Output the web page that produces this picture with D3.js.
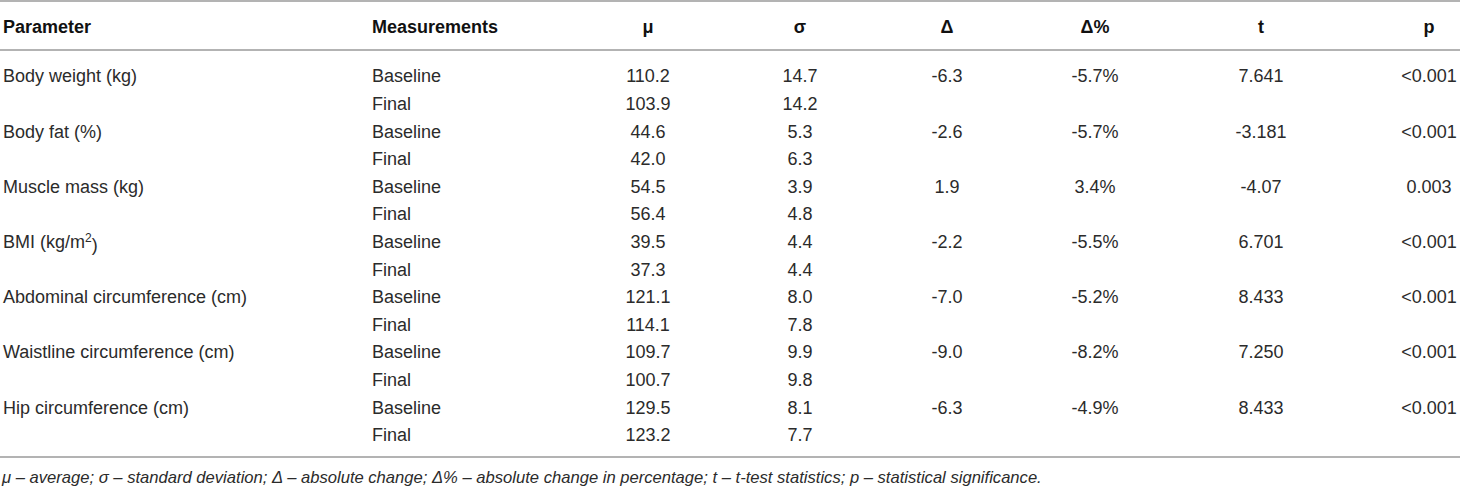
<!DOCTYPE html>
<html lang="en">
<head>
    <meta charset="UTF-8">
    <title>Body composition: baseline vs final</title>
    <script src="https://d3js.org/d3.v7.min.js"></script>
    <style>
        body {
            margin: 0;
            background: #fff;
            font-family: "Liberation Sans", Arial, sans-serif;
        }
        .cell { font-size: 18px; fill: #2b2b2b; }
        .head { font-size: 18px; font-weight: bold; fill: #111; }
        .note { font-size: 16.6px; font-style: italic; fill: #2b2b2b; }
        .rule { stroke: #9a9a9a; stroke-width: 1.5; }
    </style>
</head>
<body>
    <div id="chart"></div>
    <script>
        // Table data
        const headers = ["Parameter", "Measurements", "μ", "σ", "Δ", "Δ%", "t", "p"];
        const parameters = ["Body weight (kg)", "Body fat (%)", "Muscle mass (kg)", "BMI (kg/m2)",
            "Abdominal circumference (cm)", "Waistline circumference (cm)", "Hip circumference (cm)"];
        const measurements = ["Baseline", "Final"];
        const muBaseline = ["110.2", "44.6", "54.5", "39.5", "121.1", "109.7", "129.5"];
        const muFinal = ["103.9", "42.0", "56.4", "37.3", "114.1", "100.7", "123.2"];
        const sigmaBaseline = ["14.7", "5.3", "3.9", "4.4", "8.0", "9.9", "8.1"];
        const sigmaFinal = ["14.2", "6.3", "4.8", "4.4", "7.8", "9.8", "7.7"];
        const delta = ["-6.3", "-2.6", "1.9", "-2.2", "-7.0", "-9.0", "-6.3"];
        const deltaPct = ["-5.7%", "-5.7%", "3.4%", "-5.5%", "-5.2%", "-8.2%", "-4.9%"];
        const tStat = ["7.641", "-3.181", "-4.07", "6.701", "8.433", "7.250", "8.433"];
        const pValue = ["<0.001", "<0.001", "0.003", "<0.001", "<0.001", "<0.001", "<0.001"];
        const footnote = "μ – average; σ – standard deviation; Δ – absolute change; Δ% – absolute change in percentage; t – t-test statistics; p – statistical significance.";

        const W = 1460, H = 488;

        const svg = d3.select("#chart")
            .append("svg")
            .attr("width", W)
            .attr("height", H);

        // Build rows: two per parameter
        const rows = [];
        parameters.forEach((p, i) => {
            rows.push({ param: p, meas: measurements[0], mu: muBaseline[i], sigma: sigmaBaseline[i],
                delta: delta[i], pct: deltaPct[i], t: tStat[i], p: pValue[i] });
            rows.push({ param: "", meas: measurements[1], mu: muFinal[i], sigma: sigmaFinal[i],
                delta: "", pct: "", t: "", p: "" });
        });

        // Scales
        const y = d3.scalePoint()
            .domain(d3.range(rows.length))
            .range([76, 435]);

        const keys = ["param", "meas", "mu", "sigma", "delta", "pct", "t", "p"];
        const x = d3.scaleOrdinal()
            .domain(keys)
            .range([3, 372, 648, 800, 947, 1095, 1261, 1429]);
        const anchor = k => (k === "param" || k === "meas") ? "start" : "middle";

        // Rules
        [1, 50, 457].forEach(yy => {
            svg.append("line").attr("class", "rule")
                .attr("x1", 0).attr("x2", W)
                .attr("y1", yy).attr("y2", yy);
        });

        // Header
        svg.append("g").selectAll("text")
            .data(keys)
            .join("text")
            .attr("class", "head")
            .attr("x", k => x(k))
            .attr("y", 27)
            .attr("dy", "0.35em")
            .attr("text-anchor", anchor)
            .text((k, i) => headers[i]);

        // Body cells
        const rowG = svg.append("g").selectAll("g")
            .data(rows)
            .join("g")
            .attr("transform", (d, i) => `translate(0,${y(i)})`);

        keys.forEach(k => {
            rowG.append("text")
                .attr("class", "cell")
                .attr("x", x(k))
                .attr("dy", "0.35em")
                .attr("text-anchor", anchor(k))
                .each(function (d) {
                    const v = d[k];
                    const t = d3.select(this);
                    if (k === "param" && v.endsWith("m2)")) {
                        // superscript the 2 in kg/m2
                        t.append("tspan").text(v.slice(0, -2));
                        t.append("tspan").attr("dy", "-0.5em").style("font-size", "12px").text("2");
                        t.append("tspan").attr("dy", "0.5em").text(")");
                    } else {
                        t.text(v);
                    }
                });
        });

        // Footnote
        svg.append("text")
            .attr("class", "note")
            .attr("x", 2)
            .attr("y", 477)
            .attr("dy", "0.35em")
            .text(footnote);
    </script>
</body>
</html>
